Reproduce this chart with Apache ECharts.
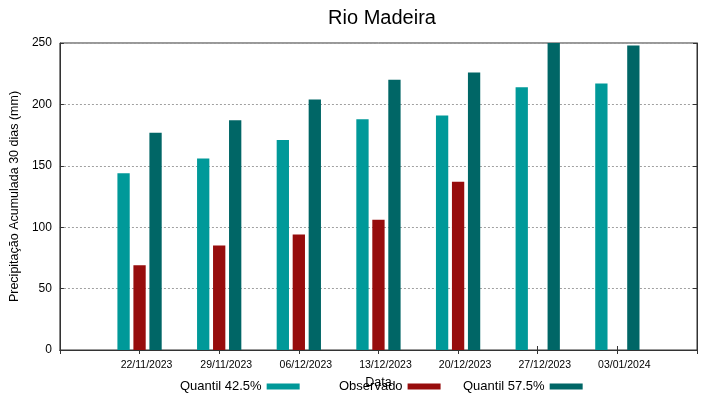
<!DOCTYPE html>
<html>
<head>
<meta charset="utf-8">
<script src="https://cdn.jsdelivr.net/npm/echarts@6/dist/echarts.min.js"></script>
<style>
  html, body { margin: 0; padding: 0; background: #fff; }
  #chart { width: 719px; height: 399px; }
</style>
</head>
<body>
<div id="chart"></div>
<script>
// dates, padded with empty slots so the first/last groups sit one step from the frame
const dates = ['22/11/2023', '29/11/2023', '06/12/2023', '13/12/2023', '20/12/2023', '27/12/2023', '03/01/2024']
const quantil425 = [144, 156, 171, 188, 191, 214, 217]
const observado = [69, 85, 94, 106, 137, null, null]
const quantil575 = [177, 187, 204, 220, 226, 250, 248]
const yTicks = [0, 50, 100, 150, 200, 250]

const cats = [''].concat(dates, [''])
const pad = arr => [null].concat(arr, [null])

const font = 'Liberation Sans, Arial, sans-serif'
const colors = { q1: '#009999', obs: '#970d0d', q2: '#006666' }

const chart = echarts.init(document.getElementById('chart'))

function legendAt(left, name) {
  return {
    data: [name],
    left: left,
    top: 380,
    padding: 0,
    align: 'right',
    itemWidth: 33,
    itemHeight: 6,
    icon: 'rect',
    selectedMode: false,
    textStyle: { fontFamily: font, fontSize: 13, color: '#000' },
  }
}

chart.setOption({
  animation: false,
  textStyle: { fontFamily: font },
  title: {
    text: 'Rio Madeira',
    left: 377,
    textAlign: 'center',
    top: 3,
    textStyle: { fontFamily: font, fontSize: 20, fontWeight: 'normal', color: '#000' },
  },
  legend: [
    legendAt(180, 'Quantil 42.5%'),
    legendAt(339, 'Observado'),
    legendAt(463, 'Quantil 57.5%'),
  ],
  grid: { left: 58, right: 22, top: 43, bottom: 49, show: true, borderColor: '#333', borderWidth: 1 },
  xAxis: [
    {
      type: 'category',
      data: cats,
      boundaryGap: false,
      name: 'Data',
      nameLocation: 'middle',
      nameGap: 23,
      nameTextStyle: { fontFamily: font, fontSize: 12.5, color: '#000' },
      axisLine: { lineStyle: { color: '#333' } },
      axisTick: { inside: true, length: 4, alignWithLabel: true, interval: 0, lineStyle: { color: '#333' } },
      axisLabel: { interval: 0, fontSize: 10.5, color: '#000', margin: 10, padding: [0, 0, 0, 14] },
      splitLine: { show: false },
    },
    {
      type: 'category',
      data: cats,
      boundaryGap: false,
      position: 'top',
      axisLine: { lineStyle: { color: '#333' } },
      axisTick: { inside: true, length: 4, interval: 0, lineStyle: { color: '#333' } },
      axisLabel: { show: false },
    },
  ],
  yAxis: [
    {
      type: 'value',
      min: 0,
      max: 250,
      interval: 50,
      name: 'Precipitação Acumulada 30 dias (mm)',
      nameLocation: 'middle',
      nameGap: 31,
      nameTextStyle: { fontFamily: font, fontSize: 12.5, color: '#000' },
      axisLine: { show: true, lineStyle: { color: '#333' } },
      axisTick: { show: true, inside: true, length: 4, lineStyle: { color: '#333' } },
      axisLabel: { fontSize: 12, color: '#000', margin: 8, customValues: yTicks },
      splitLine: { lineStyle: { color: '#a0a0a0', type: [2, 2], width: 1 } },
    },
    {
      type: 'value',
      min: 0,
      max: 250,
      interval: 50,
      position: 'right',
      axisLine: { show: true, lineStyle: { color: '#333' } },
      axisTick: { show: true, inside: true, length: 4, lineStyle: { color: '#333' } },
      axisLabel: { show: false },
      splitLine: { show: false },
    },
  ],
  series: [
    {
      name: 'Quantil 42.5%',
      type: 'bar',
      data: pad(quantil425),
      barWidth: 12.3,
      barGap: '30%',
      itemStyle: { color: colors.q1 },
    },
    {
      name: 'Observado',
      type: 'bar',
      data: pad(observado),
      barWidth: 12.3,
      barGap: '30%',
      itemStyle: { color: colors.obs },
    },
    {
      name: 'Quantil 57.5%',
      type: 'bar',
      data: pad(quantil575),
      barWidth: 12.3,
      barGap: '30%',
      itemStyle: { color: colors.q2 },
    },
  ],
})
</script>
</body>
</html>
